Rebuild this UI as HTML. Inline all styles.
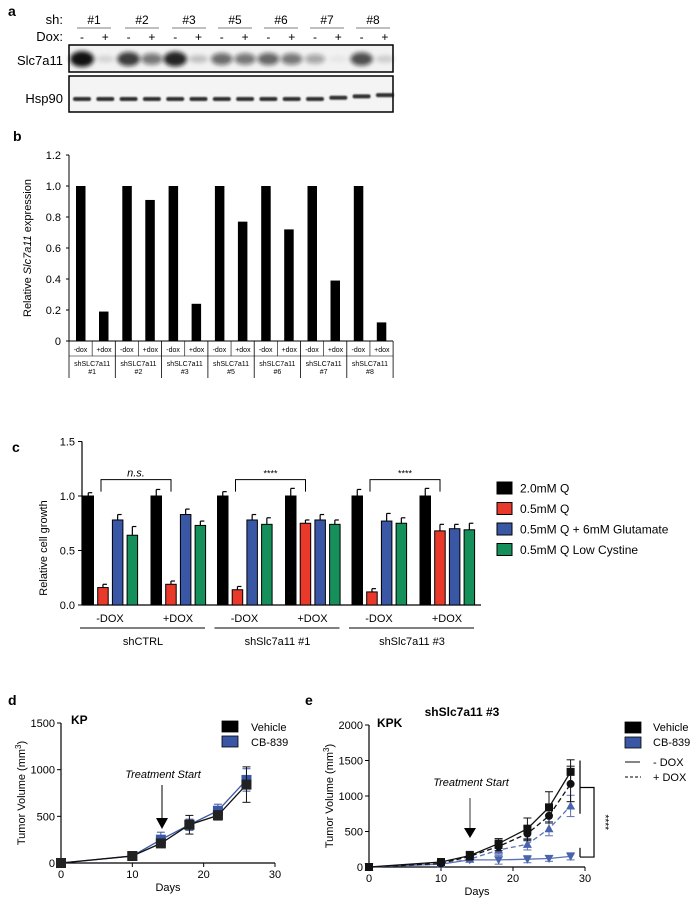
<!DOCTYPE html>
<html><head><meta charset="utf-8">
<style>
html,body{margin:0;padding:0;background:#fff;}
svg{display:block;font-family:"Liberation Sans",Arial,sans-serif;}
</style></head>
<body>
<svg id="fig" width="697" height="901" viewBox="0 0 697 901" xmlns="http://www.w3.org/2000/svg">
<defs>
<filter id="blur1" x="-50%" y="-50%" width="200%" height="200%"><feGaussianBlur stdDeviation="2"/></filter>
<filter id="blur2" x="-50%" y="-50%" width="200%" height="200%"><feGaussianBlur stdDeviation="0.8"/></filter>
</defs>
<!-- Panel a -->
<g>
<text x="8" y="16" font-size="14" font-weight="bold">a</text>
<text x="63" y="24" font-size="13" text-anchor="end">sh:</text>
<text x="63" y="41" font-size="13" text-anchor="end">Dox:</text>
<rect x="69" y="45" width="324" height="27" fill="#f2f2f2" stroke="#000" stroke-width="1.5"/>
<rect x="69" y="76" width="324" height="36" fill="#f4f4f4" stroke="#000" stroke-width="1.5"/>
<text x="63" y="65" font-size="13" text-anchor="end">Slc7a11</text>
<text x="63" y="103" font-size="13" text-anchor="end">Hsp90</text>
<g id="blotA"></g>
</g>
<!-- Panel b -->
<g>
<text x="13" y="141" font-size="14" font-weight="bold">b</text>
<g id="chartB"></g>
</g>
<!-- Panel c -->
<g>
<text x="12" y="452" font-size="14" font-weight="bold">c</text>
<g id="chartC"></g>
</g>
<!-- Panel d -->
<g>
<text x="8" y="705" font-size="14" font-weight="bold">d</text>
<g id="chartD"></g>
</g>
<!-- Panel e -->
<g>
<text x="305" y="705" font-size="14" font-weight="bold">e</text>
<text x="462" y="716" font-size="12" font-weight="bold" text-anchor="middle">shSlc7a11 #3</text>
<g id="chartE"></g>
</g>
</svg>
<script>
// ---------- data ----------
const blotGroups = ['#1','#2','#3','#5','#6','#7','#8'];
const slcIntensity = [0.98,0.12,0.8,0.55,0.9,0.2,0.6,0.55,0.62,0.55,0.35,0.05,0.72,0.15];
const hspIntensity = [0.85,0.85,0.85,0.85,0.85,0.85,0.85,0.85,0.85,0.85,0.85,0.85,0.85,0.85];

const bCategories = ['shSLC7a11 #1','shSLC7a11 #2','shSLC7a11 #3','shSLC7a11 #5','shSLC7a11 #6','shSLC7a11 #7','shSLC7a11 #8'];
const bMinusDox = [1,1,1,1,1,1,1];
const bPlusDox = [0.19,0.91,0.24,0.77,0.72,0.39,0.12];
const bTicks = [0,0.2,0.4,0.6,0.8,1.0,1.2];

const cGroups = ['shCTRL','shSlc7a11 #1','shSlc7a11 #3'];
const cSub = ['-DOX','+DOX'];
const cSeries = ['2.0mM Q','0.5mM Q','0.5mM Q + 6mM Glutamate','0.5mM Q Low Cystine'];
const cColors = ['#000000','#e8392a','#3a57a6','#16905a'];
const cVal2mM = [1.0,1.0,1.0,1.0,1.0,1.0];
const cVal05 = [0.16,0.19,0.14,0.75,0.12,0.68];
const cValGlu = [0.78,0.83,0.78,0.78,0.77,0.70];
const cValCys = [0.64,0.73,0.74,0.74,0.75,0.69];
const cErr2mM = [0.03,0.06,0.04,0.07,0.06,0.07];
const cErr05 = [0.03,0.03,0.03,0.03,0.03,0.06];
const cErrGlu = [0.05,0.05,0.05,0.05,0.07,0.04];
const cErrCys = [0.08,0.04,0.06,0.04,0.05,0.06];
const cTicks = [0,0.5,1.0,1.5];

const dDays = [0,10,14,18,22,26];
const dVehicle = [0,75,210,410,510,840];
const dVehicleErr = [0,10,30,100,50,190];
const dCB = [0,75,250,410,560,890];
const dCBErr = [0,10,80,60,70,120];
const dYTicks = [0,500,1000,1500];
const dXTicks = [0,10,20,30];

const eDays = [0,10,14,18,22,25,28];
const eVehMinus = [0,70,160,330,540,840,1340];
const eVehMinusErr = [0,20,60,70,150,220,170];
const eVehPlus = [0,50,150,290,470,720,1170];
const eVehPlusErr = [0,20,50,60,100,100,250];
const eCBPlus = [0,40,110,240,320,540,860];
const eCBPlusErr = [0,15,40,60,80,100,150];
const eCBMinus = [0,40,100,100,110,120,150];
const eCBMinusErr = [0,15,30,60,50,40,50];
const eYTicks = [0,500,1000,1500,2000];
const eXTicks = [0,10,20,30];

const NS = 'http://www.w3.org/2000/svg';
function mk(tag, attrs, parent){
  const el = document.createElementNS(NS, tag);
  for (const k in attrs) el.setAttribute(k, attrs[k]);
  parent.appendChild(el);
  return el;
}
function txt(str, attrs, parent){
  const el = mk('text', attrs, parent);
  el.textContent = str;
  return el;
}

// ---------- Panel a ----------
(function(){
  const g = document.getElementById('blotA');
  const groupCenters = [94,142,189,235,281,327,373];
  blotGroups.forEach((lab,i)=>{
    const t = txt(lab,{x:groupCenters[i],y:24,'font-size':12,'text-anchor':'middle'},g);
    
    
    const l = mk('line',{x1:groupCenters[i]-17,x2:groupCenters[i]+17,y1:28,y2:28,stroke:'#555','stroke-width':0.8},g);
    
    
  });
  for (let k=0;k<14;k++){
    const cx = 82 + k*23.3;
    const t = txt(k%2===0?'-':'+',{x:cx,y:41,'font-size':12,'text-anchor':'middle'},g);
    
    
    const v = slcIntensity[k];
    const b = mk('ellipse',{cx:cx,cy:59,rx:9+3*v,ry:3+5*v,fill:'#111','fill-opacity':v,filter:'url(#blur1)'},g);
    
    
    const h = mk('rect',{x:cx-9,y:97-(k>=11?(k-10)*1.3:0),width:18,height:4,rx:2,fill:'#111','fill-opacity':hspIntensity[k],filter:'url(#blur2)'},g);
    
    
  }
})();

// ---------- Panel b ----------
(function(){
  const g = document.getElementById('chartB');
  const x0=69, y0=341, yTop=155;
  const ys = v => y0 - v/1.2*(y0-yTop);
  const pitch = 46.3;
  mk('line',{x1:x0,x2:x0,y1:yTop,y2:y0,stroke:'#000','stroke-width':1},g);
  mk('line',{x1:x0,x2:393,y1:y0,y2:y0,stroke:'#000','stroke-width':1},g);
  bTicks.forEach(t=>{
    mk('line',{x1:x0-3,x2:x0,y1:ys(t),y2:ys(t),stroke:'#000'},g);
    const tl = txt(t===0?'0':t.toFixed(1),{x:x0-8,y:ys(t)+4,'font-size':11,'text-anchor':'end'},g);
    
    
  });
  const yl = mk('text',{transform:'translate(31,248) rotate(-90)','font-size':11,'text-anchor':'middle'},g);
  yl.innerHTML = 'Relative <tspan font-style="italic">Slc7a11</tspan> expression';
  
  
  bCategories.forEach((c,i)=>{
    const gx = x0 + i*pitch;
    const r1 = mk('rect',{x:gx+7,y:ys(bMinusDox[i]),width:9.5,height:y0-ys(bMinusDox[i]),fill:'#000'},g);
    
    
    const r2 = mk('rect',{x:gx+30,y:ys(bPlusDox[i]),width:9.5,height:y0-ys(bPlusDox[i]),fill:'#000'},g);
    
    
    mk('line',{x1:gx,x2:gx,y1:y0,y2:378,stroke:'#000','stroke-width':0.8},g);
    mk('line',{x1:gx+pitch/2,x2:gx+pitch/2,y1:y0,y2:356,stroke:'#000','stroke-width':0.6},g);
    const a = txt('-dox',{x:gx+11.5,y:352,'font-size':7,'text-anchor':'middle'},g);
     
    const b2 = txt('+dox',{x:gx+35,y:352,'font-size':7,'text-anchor':'middle'},g);
     
    const parts = c.split(' ');
    const n1 = txt(parts[0],{x:gx+pitch/2,y:366,'font-size':7,'text-anchor':'middle'},g);
     
    const n2 = txt(parts[1],{x:gx+pitch/2,y:374,'font-size':7,'text-anchor':'middle'},g);
     
  });
  mk('line',{x1:x0+bCategories.length*pitch,x2:x0+bCategories.length*pitch,y1:y0,y2:378,stroke:'#000','stroke-width':0.8},g);
  mk('line',{x1:x0,x2:x0+bCategories.length*pitch,y1:356,y2:356,stroke:'#000','stroke-width':0.6},g);
})();

// ---------- Panel c ----------
(function(){
  const g = document.getElementById('chartC');
  const x0=82, y0=605, y1=496;
  const ys = v => y0 - v*(y0-y1);
  const vals=[cVal2mM,cVal05,cValGlu,cValCys], errs=[cErr2mM,cErr05,cErrGlu,cErrCys];
  mk('line',{x1:x0,x2:x0,y1:ys(1.5),y2:y0,stroke:'#000','stroke-width':1.2},g);
  mk('line',{x1:x0,x2:481,y1:y0,y2:y0,stroke:'#000','stroke-width':1.2},g);
  cTicks.forEach(t=>{
    mk('line',{x1:x0-4,x2:x0,y1:ys(t),y2:ys(t),stroke:'#000'},g);
    const tl=txt(t.toFixed(1),{x:x0-7,y:ys(t)+4,'font-size':11,'text-anchor':'end'},g);
     
  });
  const yl=txt('Relative cell growth',{transform:'translate(47,548) rotate(-90)','font-size':11,'text-anchor':'middle'},g);
   
  const groupPitch=134.5, subPitch=68, barPitch=14.7, bw=10.5;
  cGroups.forEach((grp,gi)=>{
    const gx = 83 + gi*groupPitch;
    cSub.forEach((s,si)=>{
      const sx = gx + si*subPitch;
      const idx = gi*2+si;
      vals.forEach((arr,k)=>{
        const bx = sx + k*barPitch;
        const v = arr[idx], e = errs[k][idx];
        mk('line',{x1:bx+bw/2,x2:bx+bw/2,y1:ys(v),y2:ys(v+e),stroke:'#000','stroke-width':1.2},g);
        mk('line',{x1:bx+bw/2,x2:bx+bw/2+4,y1:ys(v+e),y2:ys(v+e),stroke:'#000','stroke-width':1.2},g);
        const r=mk('rect',{x:bx,y:ys(v),width:bw,height:y0-ys(v),fill:cColors[k],stroke:'#000','stroke-width':1},g);
        
        
      });
      const sl=txt(s,{x:sx+27,y:622,'font-size':11,'text-anchor':'middle'},g);
       
    });
    mk('line',{x1:gx-3,x2:gx+122,y1:628,y2:628,stroke:'#000','stroke-width':1},g);
    const gl=txt(grp,{x:gx+60,y:645,'font-size':11,'text-anchor':'middle'},g);
     
    const bx1 = gx+18, bx2 = gx+subPitch+20;
    const bt = ys(1.15);
    mk('polyline',{points:`${bx1},${bt+12} ${bx1},${bt} ${bx2},${bt} ${bx2},${bt+12}`,fill:'none',stroke:'#000','stroke-width':1},g);
    const st=txt(gi===0?'n.s.':'****',{x:(bx1+bx2)/2,y:bt-3,'font-size':gi===0?11:9,'font-style':gi===0?'italic':'normal','text-anchor':'middle'},g);
     
  });
  cSeries.forEach((s,k)=>{
    const y = 482 + k*20.5;
    const r=mk('rect',{x:497,y:y,width:15,height:12,fill:cColors[k],stroke:'#000','stroke-width':1},g);
     
    const t=txt(s,{x:520,y:y+10.5,'font-size':12},g);
     
  });
})();

// ---------- line chart helper ----------
function lineChart(g, o){
  const xs = d => o.x0 + d/30*(o.x30-o.x0);
  const ys = v => o.y0 - v/o.yMax*(o.y0-o.yTop);
  mk('line',{x1:o.x0,x2:o.x0,y1:o.yTop,y2:o.y0,stroke:'#000','stroke-width':1.2},g);
  mk('line',{x1:o.x0,x2:o.x30,y1:o.y0,y2:o.y0,stroke:'#000','stroke-width':1.2},g);
  o.yTicks.forEach(t=>{
    mk('line',{x1:o.x0-4,x2:o.x0,y1:ys(t),y2:ys(t),stroke:'#000'},g);
    const tl=txt(String(t),{x:o.x0-6,y:ys(t)+4,'font-size':11,'text-anchor':'end'},g);
     
  });
  o.xTicks.forEach(t=>{
    mk('line',{x1:xs(t),x2:xs(t),y1:o.y0,y2:o.y0+4,stroke:'#000'},g);
    const tl=txt(String(t),{x:xs(t),y:o.y0+15,'font-size':11,'text-anchor':'middle'},g);
     
  });
  const xt=txt('Days',{x:(o.x0+o.x30)/2,y:o.y0+28,'font-size':11,'text-anchor':'middle'},g);
   
  const yt=mk('text',{transform:`translate(${o.x0-36},${(o.y0+o.yTop)/2}) rotate(-90)`,'font-size':11,'text-anchor':'middle'},g);
  yt.innerHTML='Tumor Volume (mm<tspan dy="-4" font-size="8">3</tspan><tspan dy="4">)</tspan>';
   
  o.series.forEach(s=>{
    const pts = s.days.map((d,i)=>xs(d)+','+ys(s.vals[i])).join(' ');
    const pl=mk('polyline',{points:pts,fill:'none',stroke:s.color,'stroke-width':1.3,'stroke-dasharray':s.dash||'none'},g);
     
    s.days.forEach((d,i)=>{
      const cx=xs(d), cy=ys(s.vals[i]), e=s.errs[i];
      if(e>0){
        mk('line',{x1:cx,x2:cx,y1:ys(s.vals[i]-e),y2:ys(s.vals[i]+e),stroke:s.color,'stroke-width':1},g);
        mk('line',{x1:cx-4,x2:cx+4,y1:ys(s.vals[i]+e),y2:ys(s.vals[i]+e),stroke:s.color,'stroke-width':1},g);
        mk('line',{x1:cx-4,x2:cx+4,y1:ys(s.vals[i]-e),y2:ys(s.vals[i]-e),stroke:s.color,'stroke-width':1},g);
      }
      const r=s.size;
      let m;
      if(s.marker==='square') m=mk('rect',{x:cx-r,y:cy-r,width:2*r,height:2*r,fill:s.fill},g);
      else if(s.marker==='circle') m=mk('circle',{cx:cx,cy:cy,r:r,fill:s.fill},g);
      else if(s.marker==='up') m=mk('polygon',{points:`${cx},${cy-r} ${cx-r},${cy+r*0.8} ${cx+r},${cy+r*0.8}`,fill:s.fill},g);
      else m=mk('polygon',{points:`${cx},${cy+r} ${cx-r},${cy-r*0.8} ${cx+r},${cy-r*0.8}`,fill:s.fill},g);
      
      
    });
  });
  return {xs,ys};
}

// ---------- Panel d ----------
(function(){
  const g=document.getElementById('chartD');
  lineChart(g,{x0:61,x30:275,y0:863,yTop:723,yMax:1500,yTicks:dYTicks,xTicks:dXTicks,series:[
    {days:dDays,vals:dCB,errs:dCBErr,color:'#3a57a6',fill:'#3a57a6',marker:'square',size:5},
    {days:dDays,vals:dVehicle,errs:dVehicleErr,color:'#111',fill:'#222',marker:'square',size:5}
  ]});
  const k=txt('KP',{x:71,y:724,'font-size':12,'font-weight':'bold'},g);
   
  const ts=txt('Treatment Start',{x:163,y:778,'font-size':11,'font-style':'italic','text-anchor':'middle'},g);
   
  mk('line',{x1:162,x2:162,y1:785,y2:820,stroke:'#000','stroke-width':1},g);
  mk('polygon',{points:'156,818 168,818 162,829',fill:'#000'},g);
  [['Vehicle','#000'],['CB-839','#3a57a6']].forEach((l,i)=>{
    const r=mk('rect',{x:222,y:721+i*15,width:16,height:11,fill:l[1],stroke:'#000','stroke-width':0.8},g);
     
    const t=txt(l[0],{x:251,y:731+i*15,'font-size':11},g);
     
  });
})();

// ---------- Panel e ----------
(function(){
  const g=document.getElementById('chartE');
  const ax=lineChart(g,{x0:369,x30:585,y0:867,yTop:725,yMax:2000,yTicks:eYTicks,xTicks:eXTicks,series:[
    {days:eDays,vals:eCBMinus,errs:eCBMinusErr,color:'#5b72b5',fill:'#4a63ad',marker:'down',size:4.5},
    {days:eDays,vals:eCBPlus,errs:eCBPlusErr,color:'#5b72b5',fill:'#4a63ad',marker:'up',size:4.5,dash:'5,3'},
    {days:eDays,vals:eVehPlus,errs:eVehPlusErr,color:'#111',fill:'#111',marker:'circle',size:4,dash:'5,3'},
    {days:eDays,vals:eVehMinus,errs:eVehMinusErr,color:'#111',fill:'#111',marker:'square',size:4}
  ]});
  const k=txt('KPK',{x:377,y:727,'font-size':12,'font-weight':'bold'},g);
   
  const ts=txt('Treatment Start',{x:471,y:786,'font-size':11,'font-style':'italic','text-anchor':'middle'},g);
   
  mk('line',{x1:470,x2:470,y1:798,y2:830,stroke:'#333','stroke-width':1},g);
  mk('polygon',{points:'464,828 476,828 470,838',fill:'#000'},g);
  mk('line',{x1:580,x2:580,y1:ax.ys(1500),y2:ax.ys(750),stroke:'#000','stroke-width':1.2},g);
  mk('line',{x1:580,x2:580,y1:ax.ys(270),y2:ax.ys(140),stroke:'#000','stroke-width':1.2},g);
  mk('polyline',{points:`580,${ax.ys(1120)} 594,${ax.ys(1120)} 594,${ax.ys(140)} 580,${ax.ys(140)}`,fill:'none',stroke:'#000','stroke-width':1.2},g);
  const st=txt('****',{transform:`translate(602,${ax.ys(630)}) rotate(90)`,'font-size':10,'text-anchor':'middle'},g);
   
  [['Vehicle','#000'],['CB-839','#3a57a6']].forEach((l,i)=>{
    const r=mk('rect',{x:625,y:722+i*15,width:16,height:11,fill:l[1],stroke:'#000','stroke-width':0.8},g);
     
    const t=txt(l[0],{x:653,y:731+i*15,'font-size':11},g);
     
  });
  mk('line',{x1:625,x2:640,y1:762,y2:762,stroke:'#333','stroke-width':1.2},g);
  const t1=txt('- DOX',{x:653,y:766,'font-size':11},g);
   
  mk('line',{x1:625,x2:641,y1:777,y2:777,stroke:'#333','stroke-width':1.2,'stroke-dasharray':'3,2'},g);
  const t2=txt('+ DOX',{x:653,y:781,'font-size':11},g);
   
})();
</script>
</body></html>
